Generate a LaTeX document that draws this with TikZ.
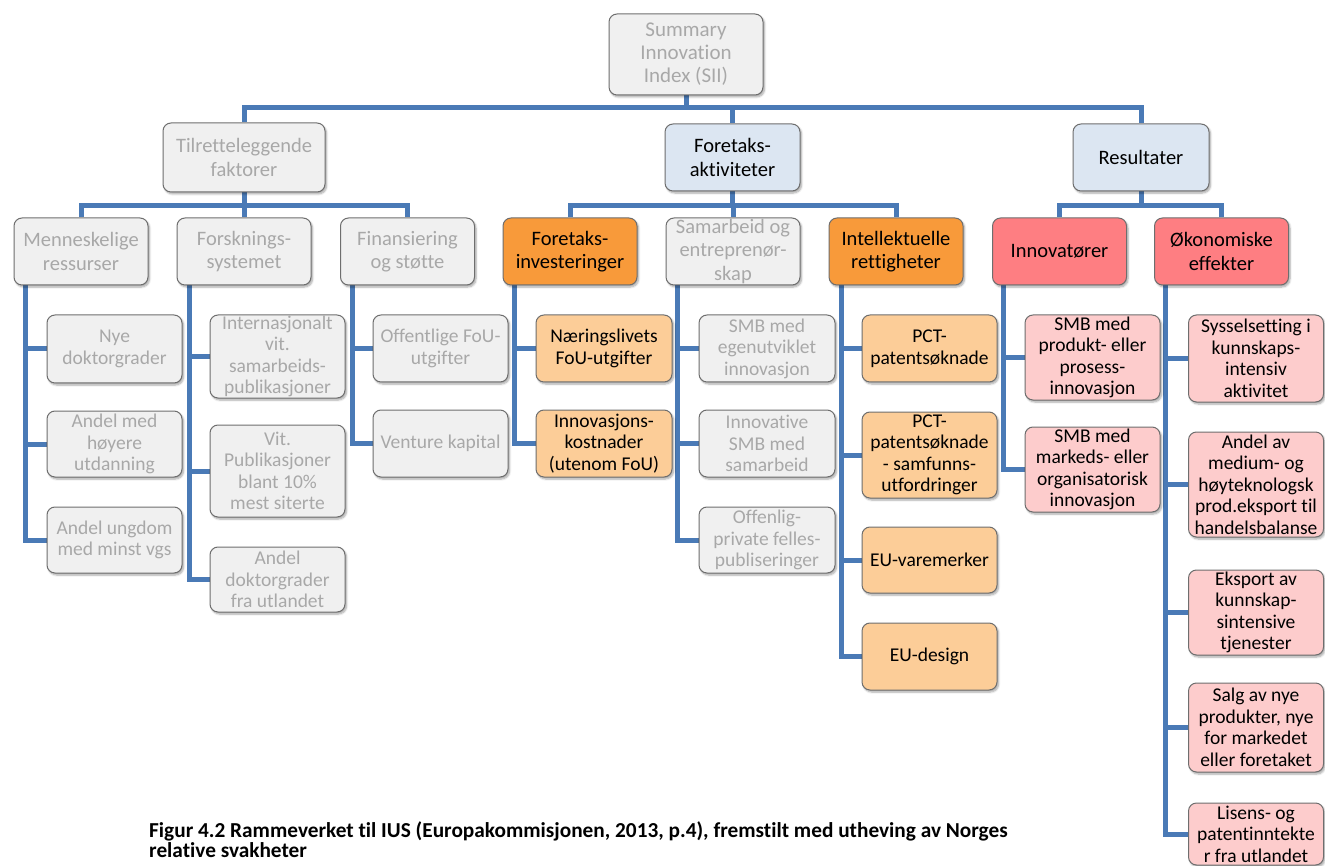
\documentclass[tikz,border=0pt]{standalone}
\usepackage{fontspec}
\setmainfont{Carlito}[Ligatures={NoCommon,NoContextual,NoRequired}]
\usetikzlibrary{shadows.blur,backgrounds}

\definecolor{connblue}{HTML}{4A7AB6}
\definecolor{boxline}{HTML}{6E6E6E}
\definecolor{grayfill}{HTML}{F0F0F0}
\definecolor{graytext}{HTML}{A8A8A8}
\definecolor{bluefill}{HTML}{DCE6F2}
\definecolor{orangefill}{HTML}{F89A3A}
\definecolor{lorangefill}{HTML}{FCCD98}
\definecolor{redfill}{HTML}{FE7E82}
\definecolor{pinkfill}{HTML}{FDCCCC}

\tikzset{
  box/.style={draw=boxline, line width=1pt, rounded corners=8pt, inner sep=0pt,
    align=center,
    blur shadow={shadow xshift=1.5pt, shadow yshift=-2pt, shadow blur steps=6,
      shadow opacity=35}},
  topfont/.style={font=\fontsize{21}{23}\selectfont},
  midfont/.style={font=\fontsize{20.5}{23.5}\selectfont},
  leaffont/.style={font=\fontsize{19.5}{21.5}\selectfont},
  grayb/.style={box, fill=grayfill, text=graytext},
  blueb/.style={box, fill=bluefill, text=black},
  orangeb/.style={box, fill=orangefill, text=black},
  lorangeb/.style={box, fill=lorangefill, text=black},
  redb/.style={box, fill=redfill, text=black},
  pinkb/.style={box, fill=pinkfill, text=black},
  mid/.style={midfont, minimum width=134, minimum height=67},
  leaf/.style={leaffont, minimum width=135},
  conn/.style={draw=connblue, line width=5pt},
}

\begin{document}
\begin{tikzpicture}[x=1pt, y=-1pt]
\useasboundingbox (0,0) rectangle (1325,866);

% top node
\node[grayb, topfont, minimum width=154, minimum height=81] (sii) at (686,54.5)
  {Summary\\Innovation\\Index (SII)};

% main groups
\node[grayb, midfont, minimum width=162, minimum height=69] (tf) at (244,157.5)
  {Tilretteleggende\\faktorer};
\node[blueb, midfont, minimum width=135, minimum height=67] (fa) at (732.5,157.5)
  {Foretaks-\\aktiviteter};
\node[blueb, midfont, minimum width=136, minimum height=67] (res) at (1141,157.5)
  {Resultater};

% dimensions
\node[grayb, mid] (mr) at (81,251.5) {Menneskelige\\ressurser};
\node[grayb, mid] (fs) at (244,251.5) {Forsknings-\\systemet};
\node[grayb, mid] (fin) at (407.5,251.5) {Finansiering\\og støtte};
\node[orangeb, mid] (fi) at (570,251.5) {Foretaks-\\investeringer};
\node[grayb, mid] (sam) at (733,251.5) {Samarbeid og\\entreprenør-\\skap};
\node[orangeb, mid] (ir) at (896,251.5) {Intellektuelle\\rettigheter};
\node[redb, mid] (inn) at (1059.5,251.5) {Innovatører};
\node[redb, mid] (oe) at (1221.5,251.5) {Økonomiske\\effekter};

% indicators: human resources
\node[grayb, leaf, minimum height=68] (nd) at (114.5,349) {Nye\\doktorgrader};
\node[grayb, leaf, minimum height=66] (ah) at (114.5,444) {Andel med\\høyere\\utdanning};
\node[grayb, leaf, minimum height=66] (au) at (114.5,540) {Andel ungdom\\med minst vgs};

% indicators: research system
\node[grayb, leaf, minimum height=83] (iv) at (277.5,356.5) {Internasjonalt\\vit.\\samarbeids-\\publikasjoner};
\node[grayb, leaf, minimum height=92] (vp) at (277.5,471) {Vit.\\Publikasjoner\\blant 10\%\\mest siterte};
\node[grayb, leaf, minimum height=65] (ad) at (277.5,579.5) {Andel\\doktorgrader\\fra utlandet};

% indicators: finance and support
\node[grayb, leaf, minimum height=67] (of) at (440.5,348.5) {Offentlige FoU-\\utgifter};
\node[grayb, leaf, minimum height=67] (vk) at (440.5,443.5) {Venture kapital};

% indicators: firm investments
\node[lorangeb, leaf, minimum width=136, minimum height=67] (nl) at (604,348.5) {Næringslivets\\FoU-utgifter};
\node[lorangeb, leaf, minimum width=136, minimum height=67] (ik) at (604,443.5) {Innovasjons-\\kostnader\\(utenom FoU)};

% indicators: linkages and entrepreneurship
\node[grayb, leaf, minimum width=136, minimum height=67] (se) at (767,348.5) {SMB med\\egenutviklet\\innovasjon};
\node[grayb, leaf, minimum width=136, minimum height=67] (is) at (767,443.5) {Innovative\\SMB med\\samarbeid};
\node[grayb, leaf, minimum width=136, minimum height=66] (op) at (767,540) {Offenlig-\\private felles-\\publiseringer};

% indicators: intellectual assets
\node[lorangeb, leaf, minimum height=67] (pct) at (929.5,348.5) {PCT-\\patentsøknade};
\node[lorangeb, leaf, minimum height=86] (pcs) at (929.5,455) {PCT-\\patentsøknade\\- samfunns-\\utfordringer};
\node[lorangeb, leaf, minimum height=66] (euv) at (929.5,560) {EU-varemerker};
\node[lorangeb, leaf, minimum height=67] (eud) at (929.5,656.5) {EU-design};

% indicators: innovators
\node[pinkb, leaf, minimum height=85] (sp) at (1092.5,357.5) {SMB med\\produkt- eller\\prosess-\\innovasjon};
\node[pinkb, leaf, minimum height=85] (sm) at (1092.5,469.5) {SMB med\\markeds- eller\\organisatorisk\\innovasjon};

% indicators: economic effects
\node[pinkb, leaf, minimum height=87] (sy) at (1256,358.5) {Sysselsetting i\\kunnskaps-\\intensiv\\aktivitet};
\node[pinkb, leaf, minimum height=105] (am) at (1256,484.5) {Andel av\\medium- og\\høyteknologsk\\prod.eksport til\\handelsbalanse};
\node[pinkb, leaf, minimum height=85] (ek) at (1256,612.5) {Eksport av\\kunnskap-\\sintensive\\tjenester};
\node[pinkb, leaf, minimum height=89] (sa) at (1256,727.5) {Salg av nye\\produkter, nye\\for markedet\\eller foretaket};
\node[pinkb, leaf, minimum height=62] (li) at (1256,834) {Lisens- og\\patentinntekte\\r fra utlandet};

% caption
\node[anchor=north west, inner sep=0pt, align=left,
      font=\bfseries\fontsize{21.3}{20.5}\selectfont] (cap) at (149,821)
  {Figur 4.2 Rammeverket til IUS (Europakommisjonen, 2013, p.4), fremstilt med utheving av Norges\\relative svakheter};

% connectors
\begin{scope}[on background layer]
  \foreach \c in {tf,fa,res} \draw[conn] (sii.south) -- ++(0,12.5) -| (\c.north);
  \foreach \c in {mr,fs,fin} \draw[conn] (tf.south) -- ++(0,13) -| (\c.north);
  \foreach \c in {fi,sam,ir} \draw[conn] (fa.south) -- ++(0,14) -| (\c.north);
  \foreach \c in {inn,oe} \draw[conn] (res.south) -- ++(0,14) -| (\c.north);

  \foreach \c in {nd,ah,au} \draw[conn] ([xshift=12pt]mr.south west) |- (\c.west);
  \foreach \c in {iv,vp,ad} \draw[conn] ([xshift=13pt]fs.south west) |- (\c.west);
  \foreach \c in {of,vk} \draw[conn] ([xshift=12pt]fin.south west) |- (\c.west);
  \foreach \c in {nl,ik} \draw[conn] ([xshift=12pt]fi.south west) |- (\c.west);
  \foreach \c in {se,is,op} \draw[conn] ([xshift=12pt]sam.south west) |- (\c.west);
  \foreach \c in {pct,pcs,euv,eud} \draw[conn] ([xshift=13pt]ir.south west) |- (\c.west);
  \foreach \c in {sp,sm} \draw[conn] ([xshift=11pt]inn.south west) |- (\c.west);
  \foreach \c in {sy,am,ek,sa,li} \draw[conn] ([xshift=11pt]oe.south west) |- (\c.west);
\end{scope}
\end{tikzpicture}
\end{document}
